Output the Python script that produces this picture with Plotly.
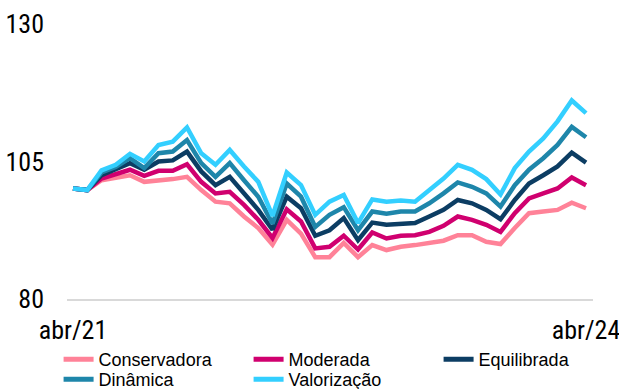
import plotly.graph_objects as go

# Portuguese month abbreviations, apr/2021 .. apr/2024 (monthly)
month_abbr = ["jan", "fev", "mar", "abr", "mai", "jun",
              "jul", "ago", "set", "out", "nov", "dez"]
months = [f"{month_abbr[(3 + i) % 12]}/{21 + (3 + i) // 12}" for i in range(37)]

tick_labels = ["abr/21", "abr/24"]
y_ticks = [80, 105, 130]

conservadora = [100.1, 99.8, 101.6, 102.1, 102.5, 101.3, 101.5, 101.8, 102.2, 99.8,
                97.7, 97.4, 95.0, 92.9, 89.9, 94.4, 91.9, 87.6, 87.6, 90.2,
                87.6, 89.8, 88.9, 89.5, 89.8, 90.2, 90.6, 91.6, 91.6, 90.4,
                90.0, 92.9, 95.6, 95.9, 96.2, 97.5, 96.5]
moderada = [100.1, 99.8, 101.9, 102.7, 103.5, 102.4, 103.3, 103.3, 104.5, 101.3,
            99.2, 99.5, 97.1, 94.4, 91.1, 96.3, 94.1, 89.2, 89.5, 91.5,
            89.0, 92.1, 91.0, 91.5, 91.6, 92.2, 93.3, 95.0, 94.4, 93.5,
            92.2, 95.6, 98.3, 99.2, 100.1, 102.1, 100.7]
equilibrada = [100.1, 99.8, 102.5, 103.5, 104.7, 103.5, 105.0, 105.2, 106.8, 103.2,
               100.7, 102.2, 99.2, 96.2, 92.6, 98.6, 96.5, 91.5, 92.5, 94.7,
               90.7, 93.9, 93.5, 93.6, 93.8, 95.0, 96.2, 98.0, 97.4, 96.2,
               94.5, 98.0, 101.0, 102.5, 104.1, 106.6, 104.8]
dinamica = [100.1, 99.8, 103.0, 104.0, 105.6, 103.8, 106.5, 106.8, 108.9, 104.7,
            102.2, 104.7, 101.6, 98.6, 93.7, 101.0, 98.6, 93.1, 95.3, 96.7,
            92.5, 95.9, 95.5, 95.9, 95.9, 97.4, 99.2, 101.2, 100.4, 99.2,
            96.8, 100.7, 103.5, 105.6, 108.0, 111.3, 109.4]
valorizacao = [100.1, 99.8, 103.4, 104.4, 106.4, 105.0, 108.0, 108.6, 111.2, 106.5,
               104.4, 107.1, 104.1, 101.3, 95.1, 103.0, 100.7, 95.3, 97.7, 98.9,
               93.8, 98.1, 97.7, 97.9, 97.7, 99.8, 101.9, 104.4, 103.5, 101.8,
               99.0, 103.8, 106.8, 109.2, 112.3, 116.1, 113.8]

# (name, values, colour, legend row)
series = [
    ("Conservadora", conservadora, "#FF8298", "legend"),
    ("Moderada", moderada, "#D0006F", "legend"),
    ("Equilibrada", equilibrada, "#0C3D63", "legend"),
    ("Dinâmica", dinamica, "#1E86AA", "legend2"),
    ("Valorização", valorizacao, "#33CFFF", "legend2"),
]

NARROW = "Liberation Sans Narrow, Arial Narrow, Roboto Condensed, DejaVu Sans Condensed, Liberation Sans, sans-serif"
LEGEND_FONT = dict(family="Liberation Sans, Arial, sans-serif", size=18, color="#000000")

fig = go.Figure()
for name, values, color, leg in series:
    fig.add_trace(go.Scatter(
        x=months, y=values, name=name, mode="lines",
        line=dict(color=color, width=4.5, shape="linear"),
        legend=leg,
    ))

legend_common = dict(
    orientation="h",
    x=-0.016, xanchor="left", yanchor="top",
    entrywidth=145, entrywidthmode="pixels",
    font=LEGEND_FONT,
    itemsizing="constant",
    bgcolor="rgba(0,0,0,0)",
)

fig.update_layout(
    width=619, height=389,
    margin=dict(l=67, r=26, t=24, b=90, autoexpand=False),
    paper_bgcolor="white", plot_bgcolor="white",
    showlegend=True,
    legend=dict(legend_common, y=-0.1527),
    legend2=dict(legend_common, y=-0.2255),
    xaxis=dict(
        type="category",
        range=[-0.42, 36.49],
        tickmode="array", tickvals=tick_labels, ticktext=tick_labels,
        showgrid=False, zeroline=False,
        showline=True, linecolor="#D9D9D9", linewidth=1.5,
        ticks="",
        tickangle=0,
        ticklabelstandoff=7,
        tickfont=dict(family=NARROW, size=26, color="#000000"),
    ),
    yaxis=dict(
        range=[80, 130],
        tickmode="array", tickvals=y_ticks,
        showgrid=False, zeroline=False, showline=False,
        ticks="",
        ticklabelstandoff=22,
        tickfont=dict(family=NARROW, size=26, color="#000000"),
    ),
)

fig.write_html("out.html")
